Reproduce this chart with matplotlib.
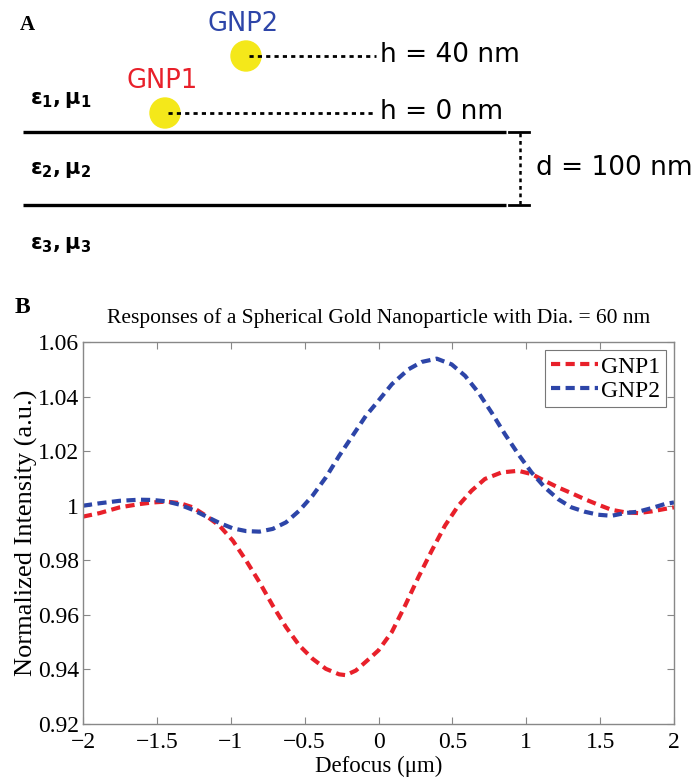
import matplotlib
matplotlib.use("Agg")
import matplotlib.pyplot as plt
from matplotlib.patches import Circle

# curve data
defocus_red = [-2.0, -1.887, -1.752, -1.617, -1.527, -1.437, -1.347, -1.257, -1.167, -1.077,
               -0.986, -0.896, -0.806, -0.716, -0.626, -0.536, -0.446, -0.356, -0.266, -0.221,
               -0.153, -0.063, 0.0, 0.09, 0.18, 0.27, 0.36, 0.45, 0.54, 0.63, 0.72, 0.833,
               0.946, 1.036, 1.126, 1.216, 1.306, 1.396, 1.486, 1.577, 1.667, 1.757, 1.847,
               1.937, 2.0]
gnp1 = [0.9960, 0.9973, 0.9994, 1.0006, 1.0012, 1.0015, 1.0010, 0.9994, 0.9963, 0.9927,
        0.9872, 0.9799, 0.9720, 0.9634, 0.9555, 0.9488, 0.9439, 0.9402, 0.9382, 0.9379,
        0.9396, 0.9439, 0.9470, 0.9537, 0.9634, 0.9738, 0.9835, 0.9927, 1.0000, 1.0055,
        1.0098, 1.0122, 1.0128, 1.0116, 1.0091, 1.0067, 1.0046, 1.0024, 1.0004, 0.9985,
        0.9976, 0.9973, 0.9979, 0.9988, 0.9994]

defocus_blue = [-2.0, -1.887, -1.752, -1.617, -1.527, -1.437, -1.347, -1.257, -1.167, -1.077,
                -0.986, -0.896, -0.806, -0.716, -0.626, -0.536, -0.446, -0.356, -0.266, -0.176,
                -0.086, 0.0, 0.09, 0.203, 0.293, 0.394, 0.495, 0.586, 0.676, 0.766, 0.856,
                0.946, 1.036, 1.126, 1.216, 1.306, 1.396, 1.486, 1.577, 1.667, 1.757, 1.847,
                1.937, 2.0]
gnp2 = [1.0000, 1.0009, 1.0018, 1.0022, 1.0021, 1.0016, 1.0004, 0.9985, 0.9961, 0.9937,
        0.9917, 0.9907, 0.9905, 0.9915, 0.9939, 0.9982, 1.0037, 1.0104, 1.0183, 1.0256,
        1.0329, 1.0385, 1.0445, 1.0500, 1.0527, 1.0539, 1.0518, 1.0476, 1.0415, 1.0341,
        1.0262, 1.0189, 1.0122, 1.0067, 1.0024, 0.9994, 0.9978, 0.9967, 0.9963, 0.9973,
        0.9978, 0.9991, 1.0006, 1.0012]

x_ticks = [-2, -1.5, -1, -0.5, 0, 0.5, 1, 1.5, 2]
x_ticklabels = ['\u22122', '\u22121.5', '\u22121', '\u22120.5', '0', '0.5', '1', '1.5', '2']
y_ticks = [0.92, 0.94, 0.96, 0.98, 1.0, 1.02, 1.04, 1.06]
y_ticklabels = ['0.92', '0.94', '0.96', '0.98', '1', '1.02', '1.04', '1.06']

# schematic labels
layer_labels = [r'$\mathbf{\epsilon_1, \mu_1}$', r'$\mathbf{\epsilon_2, \mu_2}$',
                r'$\mathbf{\epsilon_3, \mu_3}$']
particles = ['GNP1', 'GNP2']
heights = ['h = 0 nm', 'h = 40 nm']
thickness = 'd = 100 nm'

red = '#e8202a'
blue = '#2d45a8'
serif = 'Liberation Serif'

fig = plt.figure(figsize=(6.95, 7.81), dpi=100)

# ---- panel A, drawn in pixel units
axa = fig.add_axes([0, 0, 1, 1])
axa.set_xlim(0, 695)
axa.set_ylim(781, 0)
axa.axis('off')

axa.text(20, 25, 'A', fontsize=15, fontweight='bold', family=serif, va='center')
for yl in (132, 205):
    axa.plot([23, 506], [yl, yl], color='black', lw=2.4, solid_capstyle='butt')
    axa.plot([509, 529], [yl, yl], color='black', lw=2.0)
axa.plot([520, 520], [133, 204], color='black', lw=1.8, ls=(0, (1.5, 1.5)))
axa.text(536, 168, thickness, fontsize=19, va='center', ha='left')

part_xy = [(165, 113), (246, 56)]
part_col = [red, blue]
for (cx, cy), name, hl, col in zip(part_xy, particles, heights, part_col):
    axa.add_patch(Circle((cx, cy), 15, color='#f4e81a', zorder=2))
    axa.plot([cx + 3, 376], [cy, cy], color='black', lw=2.0, ls=(0, (1.5, 1.5)), zorder=3)
    axa.text(380, cy - 1, hl, fontsize=19, va='center', ha='left')
    axa.text(cx - 3, cy - 32, name, fontsize=18.5, color=col, va='center', ha='center')

for lbl, yy in zip(layer_labels, [100, 170, 245]):
    axa.text(30, yy, lbl, fontsize=15, va='center', ha='left')

# ---- panel B
ax = fig.add_axes([83 / 695, 1 - 724 / 781, 591 / 695, 382 / 781])
ax.plot(defocus_red, gnp1, color=red, lw=3, dashes=(2.2, 1.3), label='GNP1')
ax.plot(defocus_blue, gnp2, color=blue, lw=3, dashes=(2.2, 1.3), label='GNP2')
ax.set_xlim(-2, 2)
ax.set_ylim(0.92, 1.06)
ax.set_xticks(x_ticks)
ax.set_xticklabels(x_ticklabels, family=serif, fontsize=17)
ax.set_yticks(y_ticks)
ax.set_yticklabels(y_ticklabels, family=serif, fontsize=17)
ax.tick_params(direction='in', top=True, right=True, length=5, width=0.8,
               color='#888888')
ax.tick_params(axis='x', pad=6)
ax.tick_params(axis='y', pad=3)
for sp in ax.spines.values():
    sp.set_color('#888888')
    sp.set_linewidth(1.0)
ax.set_xlabel('Defocus (\u03bcm)', family=serif, fontsize=16.5, labelpad=2)
ax.set_ylabel('Normalized Intensity (a.u.)', family=serif, fontsize=19, labelpad=0)
ax.set_title('Responses of a Spherical Gold Nanoparticle with Dia. = 60 nm',
             family=serif, fontsize=15.5, pad=14)
fig.text(15 / 695, 1 - 308 / 781, 'B', fontsize=17, fontweight='bold', family=serif,
         va='center')
leg = ax.legend(loc='upper right', prop={'family': serif, 'size': 17}, fancybox=False,
                handlelength=2.0, handletextpad=0.1, borderpad=0.25, labelspacing=0.1,
                borderaxespad=0.35)
leg.get_frame().set_edgecolor('#555555')
leg.get_frame().set_linewidth(0.8)

fig.savefig('out.png', dpi=100)
